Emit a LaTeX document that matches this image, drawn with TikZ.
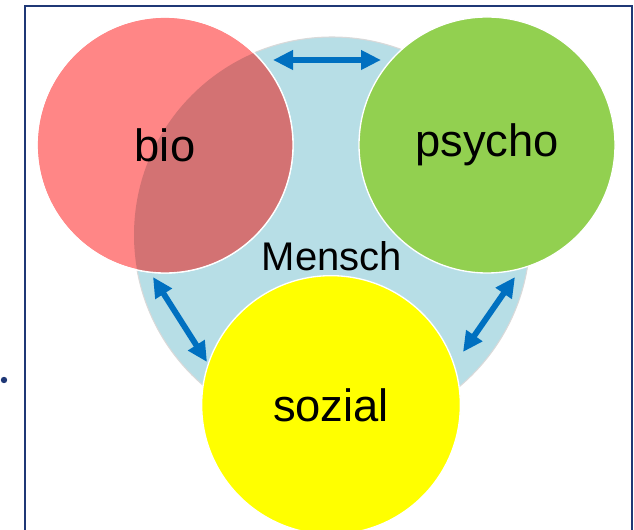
\documentclass[tikz,border=0pt]{standalone}
\usepackage{fontspec}
\setmainfont{Liberation Sans}
\usetikzlibrary{arrows.meta}
\definecolor{mynavy}{RGB}{31,56,118}
\definecolor{myblue}{RGB}{0,112,192}
\definecolor{mylight}{RGB}{183,222,230}
\definecolor{myred}{RGB}{255,134,134}
\definecolor{mydark}{RGB}{211,114,115}
\definecolor{mygreen}{RGB}{146,208,80}
\definecolor{myyellow}{RGB}{255,255,0}
\begin{document}
\begin{tikzpicture}[x=0.75pt,y=-0.75pt,
  ball/.style={circle,draw=white,line width=1pt,minimum size=192pt,inner sep=0pt},
  word/.style={font=\fontsize{34}{40}\selectfont},
  arrow/.style={{Triangle[length=15pt,width=14pt]}-{Triangle[length=15pt,width=14pt]},
                line width=4.4pt,myblue}]
\useasboundingbox (0,0) rectangle (634,530);
% frame
\draw[mynavy,line width=1.6pt] (25,530) -- (25,6) -- (632,6) -- (632,530);
\fill[mynavy] (4,380) circle (2.4pt);
% circles
\node[circle,draw=gray!30,line width=0.8pt,fill=mylight,minimum size=297pt,inner sep=0pt] (mensch) at (332,235) {};
\node[ball,fill=myred] (bio) at (165,145) {};
\begin{scope}
  \clip (mensch.center) circle (148.5pt);
  \fill[mydark] (bio.center) circle (96pt);
\end{scope}
\draw[white,line width=1pt] (bio.center) circle (96pt);
\node[ball,fill=mygreen] (psycho) at (487,145) {};
\node[ball,fill=myyellow,minimum size=194pt] (sozial) at (331,405) {};
% labels
\node[word] at (bio) {bio};
\node[word] at (psycho) {psycho};
\node[word] at (sozial) {sozial};
\node[font=\fontsize{30}{36}\selectfont] (label) at (332,256) {Mensch};
% arrows
\coordinate (t1) at (273,60);
\coordinate (t2) at (381,60);
\coordinate (l1) at (153,277);
\coordinate (l2) at (207,362);
\coordinate (r1) at (515,277);
\coordinate (r2) at (463,352);
\draw[arrow] (t1) -- (t2);
\draw[arrow] (l1) -- (l2);
\draw[arrow] (r1) -- (r2);
\end{tikzpicture}
\end{document}
